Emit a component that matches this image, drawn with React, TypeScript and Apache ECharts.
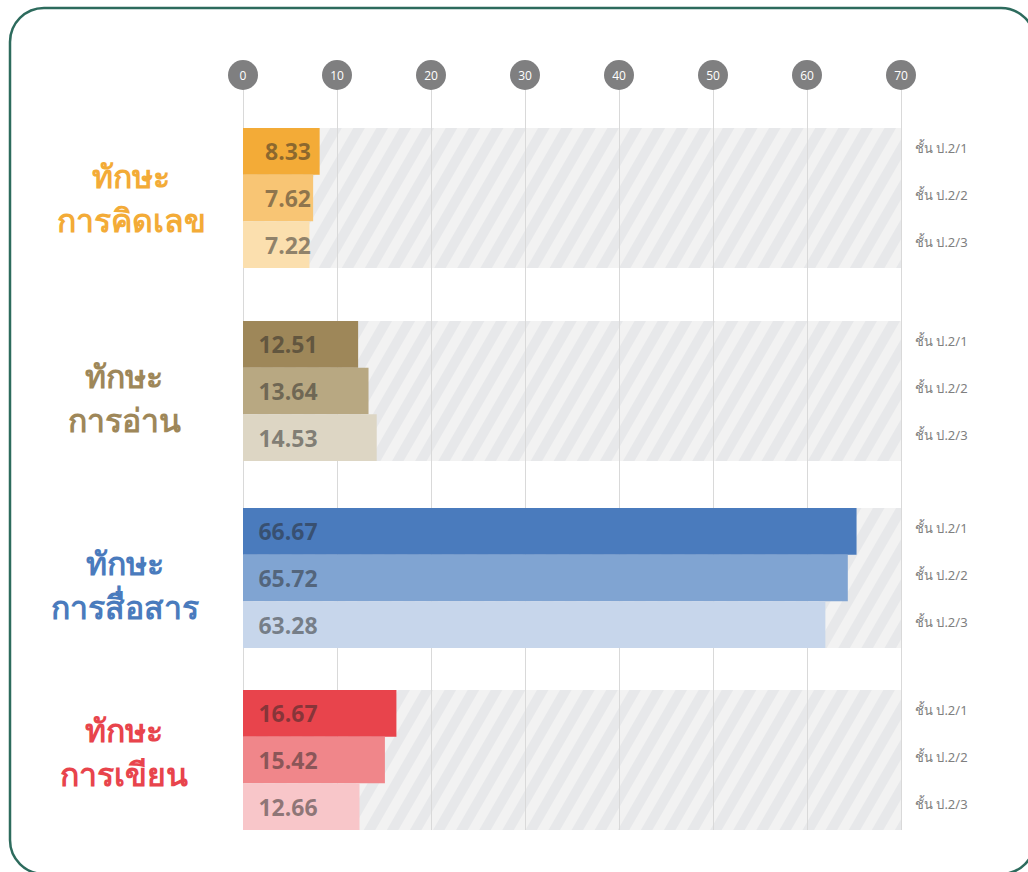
import React, { useEffect, useRef } from 'react';
import * as echarts from 'echarts';

const classes = ['ชั้น ป.2/1', 'ชั้น ป.2/2', 'ชั้น ป.2/3'];
const skillPrefix = 'ทักษะ';
const skills = ['การคิดเลข', 'การอ่าน', 'การสื่อสาร', 'การเขียน'];
const mathScores = [8.33, 7.62, 7.22];
const readingScores = [12.51, 13.64, 14.53];
const communicationScores = [66.67, 65.72, 63.28];
const writingScores = [16.67, 15.42, 12.66];
const allScores = [mathScores, readingScores, communicationScores, writingScores];
const axisMin = 0;
const axisMax = 70;
const axisStep = 10;
const barAxisMax = 71.5;

const palettes = [
  ['#f3ab37', '#f8c574', '#fbdfae'],
  ['#9e8759', '#b8a882', '#ddd6c4'],
  ['#4a7bbd', '#80a4d2', '#c7d6eb'],
  ['#e8444c', '#f0868a', '#f8c6c9'],
];
const titleColors = ['#f3ab37', '#9e8759', '#4a7bbd', '#e8444c'];
const groupTops = [128, 321, 508, 690];
const titleCenters = [[131, 197], [124, 397], [125, 584], [124, 751]];

export default function App() {
  const ref = useRef<HTMLDivElement>(null);
  useEffect(() => {
    document.body.style.margin = '0';
    const chart = echarts.init(ref.current!, null, { renderer: 'svg' });

    const grids: any[] = [
      { left: 243, right: 127, top: 90, bottom: 42, containLabel: false },
    ];
    const xAxes: any[] = [
      {
        type: 'value',
        gridIndex: 0,
        position: 'top',
        min: axisMin,
        max: axisMax,
        interval: axisStep,
        z: 2,
        axisLine: { show: false },
        axisTick: { show: false },
        axisLabel: {
          show: true,
          margin: 0,
          color: '#ffffff',
          fontSize: 12,
          fontFamily: 'Open Sans, sans-serif',
          backgroundColor: '#7f7f80',
          borderRadius: 15,
          width: 30,
          height: 30,
          lineHeight: 30,
          align: 'center',
        },
        splitLine: { show: true, lineStyle: { color: '#d9d9d9', width: 1 } },
      },
    ];
    const yAxes: any[] = [{ type: 'value', gridIndex: 0, show: false }];
    const series: any[] = [];

    allScores.forEach((scores, i) => {
      grids.push({ left: 243, right: 127, top: groupTops[i], height: 140 });
      xAxes.push({ type: 'value', gridIndex: i + 1, min: axisMin, max: barAxisMax, show: false });
      const labelAxis = yAxes.length;
      yAxes.push({
        type: 'category',
        gridIndex: i + 1,
        inverse: true,
        position: 'right',
        data: classes,
        axisLine: { show: false },
        axisTick: { show: false },
        splitLine: { show: false },
        axisLabel: {
          color: '#7f7f7f',
          fontSize: 13,
          margin: 14,
          verticalAlign: 'bottom',
          lineHeight: 6,
          fontFamily: 'Noto Sans, sans-serif',
        },
      });
      const bgAxis = yAxes.length;
      yAxes.push({ type: 'category', gridIndex: i + 1, data: [''], show: false });
      series.push({
        type: 'bar',
        xAxisIndex: i + 1,
        yAxisIndex: bgAxis,
        data: [barAxisMax],
        barCategoryGap: 0,
        barWidth: '100%',
        silent: true,
        z: 1,
        itemStyle: {
          color: '#e7e8ea',
          decal: {
            symbol: 'rect',
            symbolSize: 1,
            color: '#f2f2f2',
            dashArrayX: [1, 0],
            dashArrayY: [10, 10],
            rotation: -Math.PI / 3,
          },
        },
      });
      series.push({
        type: 'bar',
        xAxisIndex: i + 1,
        yAxisIndex: labelAxis,
        barCategoryGap: 0,
        barWidth: '100%',
        z: 3,
        data: scores.map((v, j) => ({ value: v, itemStyle: { color: palettes[i][j] } })),
        label: {
          show: true,
          position: [45, '50%'],
          align: 'center',
          verticalAlign: 'middle',
          formatter: (p: any) => Number(p.value).toFixed(2),
          color: 'rgba(38,38,38,0.5)',
          fontSize: 23,
          fontWeight: 'bold',
          fontFamily: 'Open Sans, sans-serif',
        },
      });
    });

    const graphics: any[] = [
      {
        type: 'rect',
        shape: { x: 10, y: 8, width: 1025, height: 866, r: 34 },
        style: { fill: 'none', stroke: '#2d6b5d', lineWidth: 2.5 },
        silent: true,
        z: 10,
      },
    ];
    skills.forEach((s, i) => {
      const lines = [skillPrefix, s];
      lines.forEach((t, k) => {
        graphics.push({
          type: 'text',
          x: titleCenters[i][0],
          y: titleCenters[i][1] + (k === 0 ? -22 : 22),
          style: {
            text: t,
            fill: titleColors[i],
            fontSize: 32,
            fontWeight: 'bold',
            fontFamily: 'Noto Sans, sans-serif',
            textAlign: 'center',
            textVerticalAlign: 'middle',
          },
        });
      });
    });

    chart.setOption({
      animation: false,
      backgroundColor: '#ffffff',
      grid: grids,
      xAxis: xAxes,
      yAxis: yAxes,
      series,
      graphic: graphics,
    });
    return () => chart.dispose();
  }, []);
  return <div ref={ref} style={{ width: 1028, height: 872 }} />;
}
